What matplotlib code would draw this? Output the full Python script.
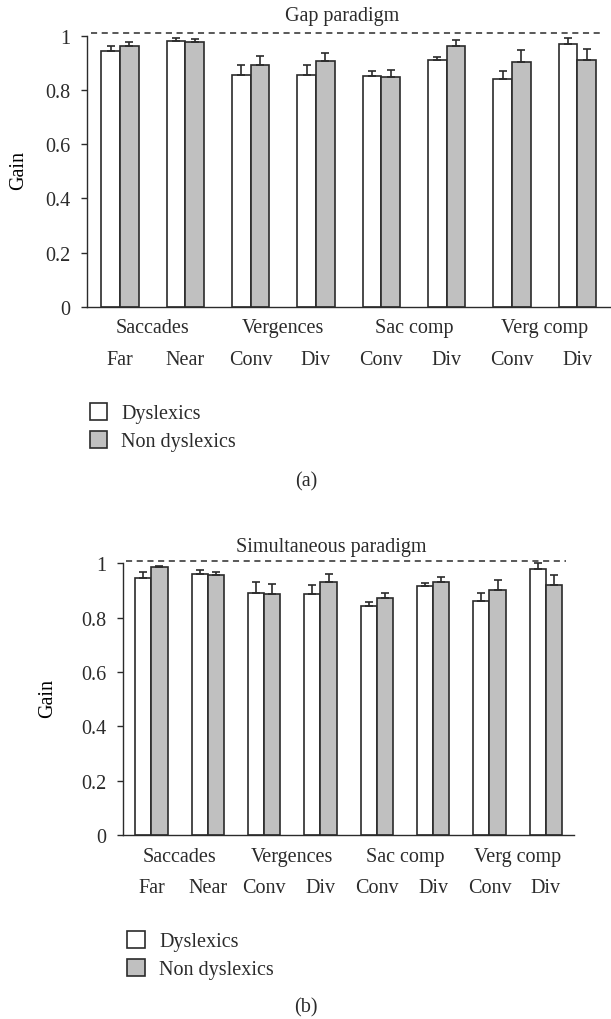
import numpy as np
import matplotlib
matplotlib.use("Agg")
import matplotlib.pyplot as plt
from matplotlib.transforms import blended_transform_factory

plt.rcParams['font.family'] = ['Liberation Serif', 'DejaVu Serif']
plt.rcParams['font.size'] = 14.5
plt.rcParams['text.color'] = '#2b2b2b'
plt.rcParams['axes.edgecolor'] = '#2b2b2b'
plt.rcParams['xtick.color'] = '#2b2b2b'
plt.rcParams['ytick.color'] = '#2b2b2b'

# movement types and sub conditions
groups = ["Saccades", "Vergences", "Sac comp", "Verg comp"]
conditions = ["Far", "Near", "Conv", "Div", "Conv", "Div", "Conv", "Div"]
series = ["Dyslexics", "Non dyslexics"]

# gap paradigm (a)
gap_dys = [0.945, 0.980, 0.857, 0.857, 0.852, 0.913, 0.840, 0.969]
gap_dys_err = [0.018, 0.011, 0.037, 0.037, 0.019, 0.011, 0.030, 0.024]
gap_non = [0.964, 0.978, 0.893, 0.908, 0.849, 0.962, 0.904, 0.910]
gap_non_err = [0.013, 0.011, 0.033, 0.029, 0.027, 0.023, 0.043, 0.043]

# simultaneous paradigm (b)
sim_dys = [0.945, 0.961, 0.891, 0.886, 0.844, 0.915, 0.861, 0.978]
sim_dys_err = [0.022, 0.013, 0.040, 0.034, 0.012, 0.011, 0.030, 0.024]
sim_non = [0.985, 0.956, 0.886, 0.931, 0.873, 0.931, 0.903, 0.920]
sim_non_err = [0.005, 0.011, 0.039, 0.030, 0.018, 0.017, 0.034, 0.036]

W, H = 611, 1020
fig = plt.figure(figsize=(W / 100, H / 100), dpi=100)


def rect(left, right, y0, ytop):
    return [left / W, 1 - y0 / H, (right - left) / W, (y0 - ytop) / H]


def panel(ax, dys, dys_err, non, non_err, title, title_xy, tag, tag_y, leg_xy, ylab_x):
    x = np.arange(len(conditions))
    w = 0.285
    ec = '#2b2b2b'
    ax.bar(x - w / 2, dys, w, color='white', edgecolor=ec, linewidth=1.2,
           label=series[0], zorder=2)
    ax.bar(x + w / 2, non, w, color='#c0c0c0', edgecolor=ec, linewidth=1.2,
           label=series[1], zorder=2)
    zeros = np.zeros(len(x))
    ax.errorbar(x - w / 2, dys, yerr=[zeros, dys_err], fmt='none', ecolor=ec,
                elinewidth=1.2, capsize=3.2, capthick=1.2, zorder=3)
    ax.errorbar(x + w / 2, non, yerr=[zeros, non_err], fmt='none', ecolor=ec,
                elinewidth=1.2, capsize=3.2, capthick=1.2, zorder=3)

    ax.set_xlim(-0.5, 7.5)
    ax.set_ylim(0, 1.012)
    ax.hlines(1.01, -0.45, 7.35, colors=ec, linestyles=(0, (4, 3)),
              linewidth=1.1, clip_on=False)
    for s in ['top', 'right']:
        ax.spines[s].set_visible(False)
    ax.spines['left'].set_bounds(0, 1)
    ax.spines['left'].set_linewidth(1.0)
    ax.spines['bottom'].set_linewidth(1.0)
    ax.set_yticks([0, 0.2, 0.4, 0.6, 0.8, 1])
    ax.set_yticklabels(["0", "0.2", "0.4", "0.6", "0.8", "1"])
    ax.tick_params(axis='y', length=4, width=1.0, pad=8)
    ax.set_xticks([])
    ax.set_ylabel("Gain")
    ax.yaxis.set_label_coords(ylab_x, 0.5)

    trans = blended_transform_factory(ax.transData, ax.transAxes)
    for i, g in enumerate(groups):
        ax.annotate(g, xy=(2 * i + 0.5, 0), xycoords=trans, xytext=(0, -18.4),
                    textcoords='offset points', ha='center', va='baseline')
    for i, c in enumerate(conditions):
        ax.annotate(c, xy=(i, 0), xycoords=trans, xytext=(0, -41),
                    textcoords='offset points', ha='center', va='baseline')

    fig.text(title_xy[0] / W, 1 - title_xy[1] / H, title, ha='center', va='baseline')
    fig.text(306 / W, 1 - tag_y / H, tag, ha='center', va='center')

    handles, labels = ax.get_legend_handles_labels()
    fig.legend(handles, labels, loc='upper left',
               bbox_to_anchor=(leg_xy[0] / W, 1 - leg_xy[1] / H),
               frameon=False, borderpad=0, borderaxespad=0,
               handlelength=0.87, handleheight=0.9, handletextpad=0.7,
               labelspacing=0.38)


ax_a = fig.add_axes(rect(87.3, 610, 307.7, 307.7 - 1.012 * 270.7))
panel(ax_a, gap_dys, gap_dys_err, gap_non, gap_non_err, "Gap paradigm",
      (342, 20.7), "(a)", 481.7, (89.6, 404), (28 - 87.3) / 522.7)

ax_b = fig.add_axes(rect(123.3, 574, 836, 836 - 1.012 * 271.7))
panel(ax_b, sim_dys, sim_dys_err, sim_non, sim_non_err, "Simultaneous paradigm",
      (331, 551.7), "(b)", 1008, (127.4, 932), (57 - 123.3) / 450.7)

fig.savefig("out.png", dpi=100)
